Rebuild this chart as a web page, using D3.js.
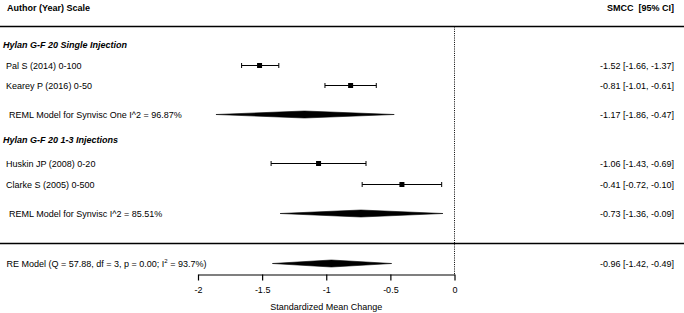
<!DOCTYPE html>
<html><head><meta charset="utf-8">
<script src="https://cdn.jsdelivr.net/npm/d3@7"></script>
<style>
body{margin:0;background:#fff;}
text{font-family:"Liberation Sans",Arial,sans-serif;fill:#000;}
</style></head>
<body><svg id="c" width="684" height="313"></svg>
<script>
// ---- data ----
const studyLabels = ["Pal S (2014) 0-100","Kearey P (2016) 0-50","Huskin JP (2008) 0-20","Clarke S (2005) 0-500"];
const studyGroup = [0,0,1,1];
const studyEst = [-1.52,-0.81,-1.06,-0.41];
const studyLo  = [-1.66,-1.01,-1.43,-0.72];
const studyHi  = [-1.37,-0.61,-0.69,-0.10];
const groupLabels = ["Hylan G-F 20 Single Injection","Hylan G-F 20 1-3 Injections"];
const subLabels = ["REML Model for Synvisc One I^2 = 96.87%","REML Model for Synvisc I^2 = 85.51%"];
const subEst = [-1.17,-0.73];
const subLo  = [-1.86,-1.36];
const subHi  = [-0.47,-0.09];
const overallEst = -0.96, overallLo = -1.42, overallHi = -0.49;
const tickValues = [-2,-1.5,-1,-0.5,0];
const tickLabels = ["-2","-1.5","-1","-0.5","0"];

const svg = d3.select("#c");
const x = d3.scaleLinear().domain([-2,0]).range([198,454.5]);
const fs = 9;
const fmt = v => (v<0?"-":"")+Math.abs(v).toFixed(2);
const ciText = (e,l,h)=> `${fmt(e)} [${fmt(l)}, ${fmt(h)}]`;
const rightX = 674;

// row positions (layout)
const studyY = [65.5,85.5,163.5,184.5];
const groupY = [44,139];
const subY = [114.5,213.5];
const overallY = 263.5;
const axisY = 274.5;

// header
svg.append("text").attr("x",7).attr("y",11).attr("font-size",fs).attr("font-weight","bold").text("Author (Year) Scale");
svg.append("text").attr("x",rightX).attr("y",11).attr("font-size",fs).attr("font-weight","bold").attr("text-anchor","end").attr("xml:space","preserve").text("SMCC  [95% CI]");
svg.append("line").attr("x1",0).attr("x2",684).attr("y1",26.5).attr("y2",26.5).attr("stroke","#000").attr("stroke-width",1.3);
svg.append("line").attr("x1",0).attr("x2",684).attr("y1",243.5).attr("y2",243.5).attr("stroke","#000").attr("stroke-width",1.3);

// dotted zero line
svg.append("line").attr("x1",x(0)).attr("x2",x(0)).attr("y1",26.5).attr("y2",axisY)
  .attr("stroke","#000").attr("stroke-width",1).attr("stroke-dasharray","1,1.2");

// group headers
groupLabels.forEach((g,i)=>{
  svg.append("text").attr("x",3).attr("y",groupY[i]+3.5).attr("font-size",fs)
    .attr("font-weight","bold").attr("font-style","italic").text(g);
});

// studies
studyLabels.forEach((s,i)=>{
  const y = studyY[i];
  svg.append("text").attr("x",6).attr("y",y+3).attr("font-size",fs).text(s);
  svg.append("text").attr("x",rightX).attr("y",y+3).attr("font-size",fs).attr("text-anchor","end")
    .text(ciText(studyEst[i],studyLo[i],studyHi[i]));
  const g = svg.append("g").attr("stroke","#000").attr("stroke-width",1);
  g.append("line").attr("x1",x(studyLo[i])).attr("x2",x(studyHi[i])).attr("y1",y).attr("y2",y);
  g.append("line").attr("x1",x(studyLo[i])).attr("x2",x(studyLo[i])).attr("y1",y-2.5).attr("y2",y+2.5);
  g.append("line").attr("x1",x(studyHi[i])).attr("x2",x(studyHi[i])).attr("y1",y-2.5).attr("y2",y+2.5);
  svg.append("rect").attr("x",x(studyEst[i])-2.5).attr("y",y-2.5).attr("width",5).attr("height",5).attr("fill","#000");
});

function diamond(e,l,h,y,hh){
  svg.append("polygon").attr("points",
    [[x(l),y],[x(e),y-hh],[x(h),y],[x(e),y+hh]].map(p=>p.join(",")).join(" "))
    .attr("fill","#000").attr("stroke","#000").attr("stroke-width",0.6);
}

subLabels.forEach((s,i)=>{
  const y = subY[i];
  svg.append("text").attr("x",9).attr("y",y+3).attr("font-size",fs).text(s);
  svg.append("text").attr("x",rightX).attr("y",y+3).attr("font-size",fs).attr("text-anchor","end")
    .text(ciText(subEst[i],subLo[i],subHi[i]));
  diamond(subEst[i],subLo[i],subHi[i],y,3.5);
});

// overall
const ot = svg.append("text").attr("x",6.5).attr("y",overallY+3).attr("font-size",fs);
ot.append("tspan").text("RE Model (Q = 57.88, df = 3, p = 0.00; I");
ot.append("tspan").attr("font-size",6).attr("dy",-3.5).text("2");
ot.append("tspan").attr("dy",3.5).text(" = 93.7%)");
svg.append("text").attr("x",rightX).attr("y",overallY+3).attr("font-size",fs).attr("text-anchor","end")
  .text(ciText(overallEst,overallLo,overallHi));
diamond(overallEst,overallLo,overallHi,overallY,3.5);

// axis
const axis = d3.axisBottom(x).tickValues(tickValues).tickFormat((d,i)=>tickLabels[i]).tickSize(6).tickSizeOuter(0);
const ag = svg.append("g").attr("transform",`translate(0,${axisY})`).call(axis);
ag.select(".domain").attr("stroke","#000").attr("stroke-width",1.2);
ag.selectAll(".tick line").attr("stroke","#000").attr("stroke-width",1.2);
ag.selectAll(".tick text").attr("font-size",fs).attr("font-family","Liberation Sans, Arial, sans-serif").attr("dy","1.05em");
svg.append("text").attr("x",x(-1)).attr("y",310).attr("font-size",fs).attr("text-anchor","middle").text("Standardized Mean Change");
</script></body></html>
